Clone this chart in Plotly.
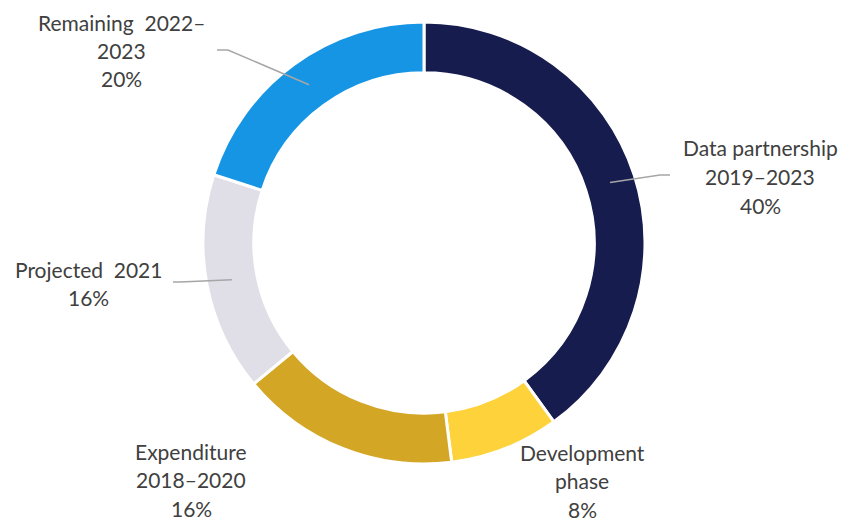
import math
import plotly.graph_objects as go

# Share of budget by phase (clockwise from 12 o'clock)
categories = ["Data partnership 2019–2023", "Development phase", "Expenditure 2018–2020",
              "Projected 2021", "Remaining 2022–2023"]
shares = [40, 8, 16, 16, 20]
colors = ["#171C4E", "#FDD23B", "#D4A625", "#E0DFE8", "#1695E5"]

# Label text lines for each slice
label_lines = [
    ["Data partnership", "2019–2023", "40%"],
    ["Development", "phase", "8%"],
    ["Expenditure", "2018–2020", "16%"],
    ["Projected\u00a0 2021", "16%"],
    ["Remaining\u00a0 2022–", "2023", "20%"],
]

W, H = 844, 522
CX, CY, R = 424, 243, 221
HOLE = 0.77

# label anchor (centre x, first line y) in pixels, and leader-line elbow/end points
label_pos = [(760, 148), (582, 452), (191, 451), (88, 269), (121, 22)]
leaders = {
    0: [(660, 175), (670, 175)],
    3: [(180, 282), (173, 282)],
    4: [(228, 50), (217, 50)],
}
LINE_STEP = 28.5


def px(x):
    return x / W


def py(y):
    return 1 - y / H


fig = go.Figure(go.Pie(
    labels=categories,
    values=shares,
    sort=False,
    direction="clockwise",
    rotation=0,
    hole=HOLE,
    marker=dict(colors=colors, line=dict(color="white", width=3)),
    textinfo="none",
    hoverinfo="label+percent",
    showlegend=False,
    domain=dict(x=[px(CX - R), px(CX + R)], y=[py(CY + R), py(CY - R)]),
))

total = sum(shares)
annotations = []
shapes = []
cum = 0
for i, v in enumerate(shares):
    mid = (cum + v / 2) / total * 2 * math.pi
    cum += v
    lx, ly = label_pos[i]
    for k, line in enumerate(label_lines[i]):
        annotations.append(dict(
            x=px(lx), y=py(ly + k * LINE_STEP), xref="paper", yref="paper",
            text=line, showarrow=False, xanchor="center", yanchor="middle",
            font=dict(family="Lato, Carlito, sans-serif", size=21, color="#404040"),
        ))
    if i in leaders:
        rm = R * (1 + HOLE) / 2
        sx = CX + rm * math.sin(mid)
        sy = CY - rm * math.cos(mid)
        pts = [(sx, sy)] + leaders[i]
        path = "M " + " L ".join(f"{px(x):.5f},{py(y):.5f}" for x, y in pts)
        shapes.append(dict(type="path", path=path, xref="paper", yref="paper",
                           line=dict(color="#A6A6A6", width=1.5)))

fig.update_layout(
    width=W, height=H,
    margin=dict(l=0, r=0, t=0, b=0),
    paper_bgcolor="white",
    plot_bgcolor="white",
    annotations=annotations,
    shapes=shapes,
)

fig.write_html("out.html")
